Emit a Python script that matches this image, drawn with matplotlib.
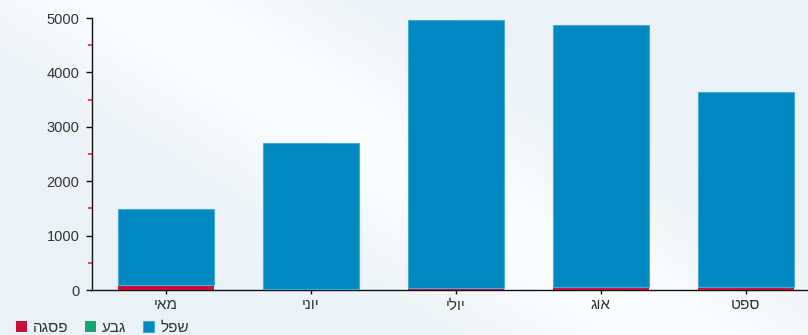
import numpy as np
import matplotlib
matplotlib.use("Agg")
import matplotlib.pyplot as plt
from matplotlib.ticker import MultipleLocator

plt.rcParams['font.family'] = ['Liberation Sans', 'DejaVu Sans']

# Data (logical Hebrew text; reversed at draw time because matplotlib has no bidi)
categories = ["מאי", "יוני", "יולי", "אוג", "ספט"]
series_names = ["פסגה", "גבע", "שפל"]
peak = [95, 5, 25, 45, 45]          # פסגה (red)
mid = [5, 5, 5, 5, 5]               # גבע (green)
low = [1390, 2690, 4930, 4820, 3590]  # שפל (blue)
y_ticks = [0, 1000, 2000, 3000, 4000, 5000]

colors = ["#c8103c", "#17a673", "#0088c0"]

def vis(s):
    return s[::-1]

fig = plt.figure(figsize=(8.08, 3.35), dpi=100)

# background gradient
bg = fig.add_axes([0, 0, 1, 1], zorder=-10)
bg.set_axis_off()
yy, xx = np.mgrid[0:1:200j, 0:1:400j]
d = (xx * 0.9 + yy * 0.6)
band = np.exp(-((d - 0.75) / 0.2) ** 2)
base = np.array([0.925, 0.950, 0.968])
white = np.array([0.985, 0.990, 0.995])
img = base[None, None, :] * (1 - band[..., None]) + white[None, None, :] * band[..., None]
bg.imshow(img, aspect='auto', extent=[0, 1, 0, 1], origin='lower')
bg.set_xlim(0, 1)
bg.set_ylim(0, 1)

ax = fig.add_axes([92 / 808, 45 / 335, (808 - 92) / 808, 272 / 335])
ax.patch.set_alpha(0)

x = np.arange(len(categories))
w = 0.66
b1 = np.array(peak)
b2 = b1 + np.array(mid)
ax.bar(x, peak, w, color=colors[0], label=vis(series_names[0]), zorder=3)
ax.bar(x, mid, w, bottom=b1, color=colors[1], label=vis(series_names[1]), zorder=3)
ax.bar(x, low, w, bottom=b2, color=colors[2], edgecolor="#4aa8d8", linewidth=0.8,
       label=vis(series_names[2]), zorder=3)

ax.set_xlim(-0.51, -0.51 + 716 / 145)
ax.set_ylim(0, 5000)
ax.set_yticks(y_ticks)
ax.yaxis.set_minor_locator(MultipleLocator(500))
ax.set_xticks(x)
ax.set_xticklabels([vis(c) for c in categories])

for s in ["top", "right"]:
    ax.spines[s].set_visible(False)
ax.spines["left"].set_color("#111111")
ax.spines["bottom"].set_color("#111111")
ax.spines["left"].set_linewidth(1.0)
ax.spines["bottom"].set_linewidth(1.0)

ax.tick_params(axis="y", which="major", length=4, width=1, color="#111111",
               labelsize=10.5, labelcolor="#333333", pad=5)
ax.tick_params(axis="y", which="minor", length=3, width=1.2, color="#ff2020")
ax.tick_params(axis="x", which="major", length=3, width=1, color="#111111",
               labelsize=11, labelcolor="#333333", pad=3)

h, l = ax.get_legend_handles_labels()
fig.legend(h, l, loc="lower left", bbox_to_anchor=(0.003, -0.04), ncol=3, frameon=False,
           fontsize=11, handlelength=0.7, handleheight=0.7, handletextpad=0.4,
           columnspacing=1.1, labelcolor="#333333")

fig.savefig("out.png", dpi=100, facecolor=fig.get_facecolor())
